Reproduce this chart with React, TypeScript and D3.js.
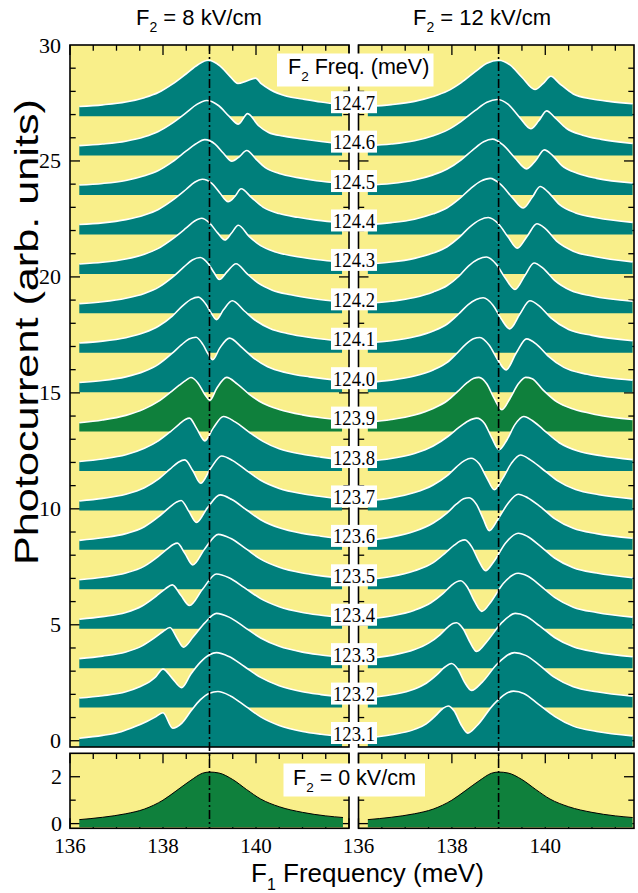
import React from "react";
import * as d3 from "d3";

// F2 laser frequencies (meV), listed bottom trace first
const F2_LABELS = ["123.1", "123.2", "123.3", "123.4", "123.5", "123.6", "123.7", "123.8", "123.9",
  "124.0", "124.1", "124.2", "124.3", "124.4", "124.5", "124.6", "124.7"];
// vertical offset (band bottom) of each trace, arb. units
const OFFSETS = [-0.27, 1.43, 3.13, 4.83, 6.53, 8.23, 9.93, 11.63, 13.33, 15.03, 16.73, 18.43,
  20.13, 21.83, 23.53, 25.23, 26.93];
const RESONANT_INDEX = 8; // 123.9 meV trace, drawn in green

// ---- F2 = 8 kV/cm : [F1 (meV), photocurrent above offset] ----
const L1231 = [[136.2,.38],[136.7,.5],[137.1,.66],[137.4,.88],[137.65,1.1],[137.85,1.31],[138.0,1.48],[138.21,.81],[138.4,1.02],[138.6,1.55],[138.8,2.03],[139.0,2.32],[139.18,2.39],[139.45,2.2],[139.78,1.75],[140.1,1.3],[140.5,.93],[141.0,.67],[141.4,.55],[141.85,.45]];
const L1232 = [[136.2,.41],[136.7,.51],[137.2,.68],[137.5,.9],[137.7,1.1],[137.83,1.3],[138.0,1.66],[138.2,1.26],[138.4,.86],[138.6,1.45],[138.8,1.95],[139.0,2.28],[139.15,2.37],[139.42,2.2],[139.75,1.77],[140.1,1.3],[140.5,.94],[141.0,.68],[141.4,.56],[141.85,.45]];
const L1233 = [[136.2,.41],[136.7,.52],[137.2,.7],[137.55,.96],[137.8,1.28],[138.0,1.58],[138.15,1.75],[138.3,1.3],[138.44,.9],[138.65,1.35],[138.9,1.95],[139.15,2.36],[139.42,2.2],[139.75,1.77],[140.1,1.3],[140.5,.94],[141.0,.69],[141.4,.57],[141.85,.46]];
const L1234 = [[136.2,.41],[136.7,.52],[137.2,.7],[137.55,.98],[137.85,1.4],[138.05,1.72],[138.2,1.89],[138.38,1.45],[138.57,1.0],[138.85,1.7],[139.15,2.36],[139.42,2.2],[139.75,1.77],[140.1,1.3],[140.5,.95],[141.0,.7],[141.4,.58],[141.85,.47]];
const L1235 = [[136.2,.41],[136.7,.52],[137.2,.7],[137.6,1.0],[137.9,1.42],[138.1,1.75],[138.22,1.93],[138.31,1.99],[138.47,1.55],[138.64,1.05],[138.9,1.75],[139.19,2.37],[139.45,2.2],[139.78,1.75],[140.1,1.3],[140.5,.95],[141.0,.7],[141.4,.58],[141.85,.47]];
const L1236 = [[136.2,.41],[136.7,.52],[137.2,.7],[137.6,1.0],[137.9,1.42],[138.12,1.8],[138.28,2.05],[138.39,2.13],[138.55,1.68],[138.72,1.18],[138.95,1.8],[139.23,2.37],[139.48,2.17],[139.8,1.72],[140.1,1.3],[140.5,.95],[141.0,.71],[141.4,.59],[141.85,.47]];
const L1237 = [[136.2,.41],[136.7,.52],[137.2,.7],[137.6,.98],[137.9,1.35],[138.15,1.78],[138.33,2.08],[138.47,2.18],[138.64,1.72],[138.81,1.17],[139.02,1.8],[139.26,2.35],[139.5,2.15],[139.8,1.72],[140.1,1.3],[140.5,.95],[141.0,.72],[141.4,.6],[141.85,.48]];
const L1238 = [[136.2,.41],[136.7,.52],[137.2,.7],[137.6,.98],[137.9,1.3],[138.15,1.68],[138.35,2.02],[138.48,2.22],[138.57,2.28],[138.72,1.85],[138.9,1.3],[139.08,1.85],[139.3,2.35],[139.55,2.12],[139.85,1.68],[140.15,1.28],[140.5,.96],[141.0,.72],[141.4,.6],[141.85,.48]];
const L1239 = [[136.2,.38],[136.7,.5],[137.2,.7],[137.6,.98],[137.9,1.3],[138.15,1.68],[138.35,2.0],[138.5,2.22],[138.6,2.33],[138.75,2.1],[138.9,1.6],[139.01,1.35],[139.15,1.85],[139.37,2.34],[139.6,2.05],[139.85,1.62],[140.15,1.22],[140.5,.95],[141.0,.72],[141.4,.6],[141.85,.51]];
const L1240 = [[136.2,.42],[136.7,.5],[137.2,.66],[137.6,.9],[137.9,1.2],[138.2,1.68],[138.4,2.05],[138.56,2.29],[138.71,2.37],[138.86,2.05],[138.97,1.65],[139.07,1.4],[139.22,1.9],[139.43,2.33],[139.7,1.92],[139.95,1.47],[140.25,1.1],[140.65,.84],[141.15,.66],[141.85,.5]];
const L1241 = [[136.2,.42],[136.7,.5],[137.2,.65],[137.6,.87],[137.9,1.14],[138.2,1.58],[138.42,2.02],[138.6,2.3],[138.76,2.4],[138.92,2.1],[139.04,1.7],[139.15,1.43],[139.3,1.85],[139.49,2.24],[139.75,1.8],[140.0,1.38],[140.3,1.05],[140.7,.82],[141.2,.65],[141.85,.5]];
const L1242 = [[136.2,.42],[136.7,.5],[137.2,.65],[137.6,.86],[137.9,1.12],[138.2,1.55],[138.45,2.0],[138.63,2.3],[138.8,2.41],[138.97,2.15],[139.1,1.75],[139.21,1.46],[139.38,1.8],[139.57,2.14],[139.8,1.72],[140.05,1.3],[140.35,1.0],[140.75,.8],[141.25,.63],[141.85,.5]];
const L1243 = [[136.2,.43],[136.7,.5],[137.2,.64],[137.6,.85],[137.9,1.1],[138.2,1.5],[138.5,1.98],[138.68,2.28],[138.83,2.4],[139.0,2.2],[139.17,1.78],[139.33,1.46],[139.47,1.75],[139.62,2.1],[139.85,1.62],[140.1,1.22],[140.4,.96],[140.8,.77],[141.3,.62],[141.85,.51]];
const L1244 = [[136.2,.43],[136.7,.5],[137.2,.64],[137.6,.84],[137.9,1.08],[138.2,1.47],[138.5,1.95],[138.68,2.25],[138.85,2.38],[139.05,2.2],[139.22,1.8],[139.4,1.41],[139.55,1.65],[139.68,1.97],[139.9,1.6],[140.15,1.18],[140.5,.9],[140.9,.74],[141.3,.62],[141.85,.51]];
const L1245 = [[136.2,.43],[136.7,.5],[137.2,.63],[137.6,.83],[137.9,1.06],[138.2,1.43],[138.5,1.9],[138.7,2.2],[138.9,2.39],[139.12,2.2],[139.3,1.8],[139.48,1.46],[139.64,1.65],[139.8,1.92],[140.0,1.55],[140.2,1.18],[140.5,.93],[140.9,.75],[141.3,.62],[141.85,.51]];
const L1246 = [[136.2,.43],[136.7,.5],[137.2,.62],[137.6,.81],[137.9,1.04],[138.2,1.4],[138.5,1.85],[138.72,2.2],[138.94,2.38],[139.2,2.15],[139.42,1.7],[139.62,1.36],[139.82,1.81],[140.05,1.3],[140.27,1.0],[140.6,.84],[141.0,.72],[141.4,.61],[141.85,.5]];
const L1247 = [[136.2,.42],[136.7,.49],[137.2,.61],[137.6,.8],[137.9,1.02],[138.2,1.38],[138.5,1.83],[138.75,2.22],[138.97,2.41],[139.23,2.16],[139.44,1.72],[139.61,1.41],[139.8,1.52],[139.99,1.64],[140.12,1.39],[140.3,1.15],[140.66,.86],[141.0,.74],[141.4,.61],[141.85,.5]];

// ---- F2 = 12 kV/cm ----
const R1231 = [[136.2,.4],[136.7,.53],[137.2,.76],[137.45,1.0],[137.65,1.35],[137.8,1.65],[137.92,1.77],[138.05,1.55],[138.2,.95],[138.34,.6],[138.55,.95],[138.9,1.85],[139.32,2.41],[139.55,2.3],[139.85,1.85],[140.2,1.32],[140.6,.9],[141.1,.67],[141.87,.48]];
const R1232 = [[136.2,.42],[136.7,.55],[137.2,.8],[137.45,1.05],[137.68,1.42],[137.85,1.75],[137.99,1.9],[138.13,1.65],[138.27,1.1],[138.42,.74],[138.65,1.1],[138.98,1.9],[139.34,2.37],[139.58,2.25],[139.88,1.82],[140.2,1.3],[140.6,.9],[141.1,.68],[141.87,.49]];
const R1233 = [[136.2,.42],[136.7,.55],[137.2,.8],[137.5,1.08],[137.75,1.45],[137.92,1.78],[138.02,1.93],[138.1,1.96],[138.24,1.7],[138.38,1.15],[138.53,.72],[138.75,1.15],[139.05,1.92],[139.36,2.36],[139.58,2.25],[139.88,1.82],[140.2,1.32],[140.6,.92],[141.1,.69],[141.87,.49]];
const R1234 = [[136.2,.42],[136.7,.55],[137.2,.8],[137.55,1.12],[137.8,1.5],[137.98,1.85],[138.1,2.02],[138.19,2.07],[138.33,1.8],[138.48,1.2],[138.64,.75],[138.85,1.2],[139.1,1.95],[139.42,2.39],[139.62,2.27],[139.9,1.85],[140.2,1.35],[140.6,.93],[141.1,.7],[141.87,.5]];
const R1235 = [[136.2,.42],[136.7,.55],[137.2,.8],[137.6,1.15],[137.85,1.55],[138.05,1.9],[138.18,2.08],[138.28,2.13],[138.42,1.85],[138.57,1.25],[138.72,.8],[138.9,1.2],[139.15,2.0],[139.42,2.42],[139.62,2.28],[139.9,1.85],[140.2,1.35],[140.6,.93],[141.1,.7],[141.87,.5]];
const R1236 = [[136.2,.42],[136.7,.55],[137.2,.8],[137.6,1.16],[137.9,1.6],[138.1,1.98],[138.25,2.2],[138.37,2.25],[138.53,1.95],[138.67,1.35],[138.8,.83],[138.98,1.3],[139.2,2.0],[139.42,2.4],[139.62,2.25],[139.9,1.85],[140.2,1.35],[140.6,.93],[141.1,.7],[141.87,.5]];
const R1237 = [[136.2,.42],[136.7,.54],[137.2,.77],[137.6,1.1],[137.9,1.5],[138.1,1.88],[138.27,2.15],[138.41,2.25],[138.58,2.02],[138.75,1.4],[138.91,.89],[139.08,1.35],[139.27,2.02],[139.47,2.39],[139.68,2.18],[139.92,1.82],[140.25,1.3],[140.65,.9],[141.15,.68],[141.87,.5]];
const R1238 = [[136.2,.42],[136.7,.54],[137.2,.76],[137.6,1.08],[137.92,1.5],[138.15,1.88],[138.35,2.16],[138.53,2.28],[138.7,2.05],[138.85,1.45],[139.01,.92],[139.18,1.35],[139.35,2.0],[139.54,2.35],[139.72,2.18],[139.95,1.8],[140.3,1.22],[140.7,.86],[141.2,.66],[141.87,.49]];
const R1239 = [[136.2,.4],[136.7,.52],[137.2,.72],[137.6,1.0],[137.9,1.33],[138.12,1.72],[138.32,2.1],[138.47,2.3],[138.58,2.34],[138.75,2.05],[138.9,1.45],[139.07,.94],[139.25,1.45],[139.42,2.05],[139.58,2.34],[139.72,2.28],[139.95,1.8],[140.25,1.28],[140.6,.97],[141.1,.73],[141.87,.52]];
const R1240 = [[136.2,.42],[136.7,.52],[137.2,.7],[137.6,.96],[137.9,1.28],[138.12,1.7],[138.3,2.07],[138.46,2.3],[138.6,2.36],[138.8,2.02],[138.98,1.4],[139.16,.96],[139.38,1.7],[139.6,2.3],[139.82,2.05],[140.05,1.58],[140.4,1.07],[140.9,.77],[141.87,.52]];
const R1241 = [[136.2,.43],[136.7,.52],[137.2,.69],[137.6,.94],[137.9,1.24],[138.15,1.68],[138.35,2.08],[138.52,2.3],[138.67,2.37],[138.88,2.05],[139.06,1.45],[139.24,1.03],[139.46,1.68],[139.67,2.24],[139.88,2.0],[140.12,1.5],[140.5,1.0],[141.0,.75],[141.87,.52]];
const R1242 = [[136.2,.43],[136.7,.52],[137.2,.68],[137.6,.92],[137.9,1.2],[138.15,1.6],[138.36,2.05],[138.56,2.33],[138.74,2.43],[138.95,2.12],[139.15,1.5],[139.35,1.03],[139.56,1.62],[139.76,2.17],[139.95,1.95],[140.2,1.42],[140.55,.98],[141.0,.75],[141.87,.52]];
const R1243 = [[136.2,.43],[136.7,.51],[137.2,.67],[137.6,.9],[137.9,1.17],[138.15,1.56],[138.38,2.02],[138.6,2.33],[138.78,2.43],[139.0,2.15],[139.2,1.6],[139.4,1.11],[139.62,1.65],[139.82,2.16],[140.0,1.95],[140.25,1.4],[140.6,.98],[141.05,.75],[141.87,.52]];
const R1244 = [[136.2,.43],[136.7,.51],[137.2,.66],[137.6,.89],[137.9,1.15],[138.15,1.52],[138.4,1.98],[138.62,2.3],[138.82,2.42],[139.05,2.15],[139.3,1.58],[139.53,1.14],[139.72,1.6],[139.89,2.07],[140.05,1.85],[140.3,1.3],[140.65,.93],[141.1,.72],[141.87,.52]];
const R1245 = [[136.2,.43],[136.7,.5],[137.2,.65],[137.6,.87],[137.9,1.12],[138.2,1.52],[138.45,1.95],[138.68,2.3],[138.87,2.41],[139.1,2.15],[139.35,1.6],[139.6,1.13],[139.8,1.5],[139.98,1.95],[140.15,1.72],[140.35,1.28],[140.7,.93],[141.1,.72],[141.87,.52]];
const R1246 = [[136.2,.43],[136.7,.5],[137.2,.64],[137.6,.86],[137.9,1.1],[138.2,1.48],[138.5,1.95],[138.75,2.3],[138.97,2.42],[139.2,2.22],[139.45,1.65],[139.69,1.16],[139.86,1.5],[140.03,1.93],[140.2,1.65],[140.45,1.18],[140.8,.88],[141.2,.7],[141.87,.52]];
const R1247 = [[136.2,.42],[136.7,.5],[137.2,.64],[137.6,.85],[137.9,1.08],[138.2,1.45],[138.5,1.92],[138.75,2.28],[139.0,2.41],[139.25,2.2],[139.5,1.68],[139.78,1.15],[139.95,1.4],[140.12,1.72],[140.3,1.42],[140.6,.96],[141.0,.74],[141.4,.63],[141.87,.54]];

// ---- F2 = 0 kV/cm reference spectrum ----
const ZERO_FIELD = [[136.2,.17],[136.7,.27],[137.2,.42],[137.6,.62],[138.0,1.0],[138.3,1.42],[138.6,1.85],[138.85,2.15],[139.0,2.2],[139.2,2.16],[139.5,1.88],[139.8,1.45],[140.1,1.05],[140.5,.72],[141.0,.48],[141.5,.33],[141.87,.26]];

const TRACES_8KV = [L1231, L1232, L1233, L1234, L1235, L1236, L1237, L1238, L1239, L1240, L1241, L1242, L1243, L1244, L1245, L1246, L1247];
const TRACES_12KV = [R1231, R1232, R1233, R1234, R1235, R1236, R1237, R1238, R1239, R1240, R1241, R1242, R1243, R1244, R1245, R1246, R1247];

const Y_TICK_LABELS = ["0", "5", "10", "15", "20", "25", "30"];
const X_TICK_LABELS = ["136", "138", "140"];
const BOTTOM_Y_LABELS = ["0", "2"];
const RESONANCE_F1 = 139.0;

const YELLOW = "#f9ef8a";
const TEAL = "#007f7b";
const GREEN = "#0f803c";
const SANS = "'Liberation Sans', Arial, Helvetica, sans-serif";
const SERIF = "'Liberation Serif', 'Times New Roman', serif";

const TOP = { y0: 45, y1: 747 };
const BOT = { y0: 753.3, y1: 828.3 };

const yTop = d3.scaleLinear().domain([-0.27, 30]).range([TOP.y1, TOP.y0]);
const yBot = d3.scaleLinear().domain([-0.2, 3]).range([BOT.y1, BOT.y0]);

const xLeft = d3.scaleLinear().domain([136, 142]).range([70, 349]);
const xRight = d3.scaleLinear().domain([136, 141.9]).range([358.5, 634]);

function Panel({ x, traces }: { x: d3.ScaleLinear<number, number>; traces: number[][][] }) {
  const [px0, px1] = x.range();
  const [d0, d1] = x.domain();
  const xTicks = d3.range(d0, d1 + 1e-6, 0.5);
  const isMajorX = (v: number) => Math.abs(v - Math.round(v / 2) * 2) < 1e-6;
  const yTicksTop = d3.range(0, 30, 1);
  const yTicksBot = [0, 1, 2];

  const curveFor = (offset: number) =>
    d3.area<number[]>()
      .x((d) => x(d[0]))
      .y0(yTop(offset))
      .y1((d) => yTop(offset + d[1]))
      .curve(d3.curveMonotoneX);
  const lineFor = (offset: number) =>
    d3.line<number[]>()
      .x((d) => x(d[0]))
      .y((d) => yTop(offset + d[1]))
      .curve(d3.curveMonotoneX);

  const zeroArea = d3.area<number[]>()
    .x((d) => x(d[0]))
    .y0(yBot(-0.15))
    .y1((d) => yBot(d[1]))
    .curve(d3.curveMonotoneX);
  const zeroLine = d3.line<number[]>()
    .x((d) => x(d[0]))
    .y((d) => yBot(d[1]))
    .curve(d3.curveMonotoneX);
  const zeroData = ZERO_FIELD.map((d) => [Math.min(d[0], d1 - 0.02), d[1]]);

  const order = d3.range(traces.length).reverse();

  return (
    <g>
      <rect x={px0} y={TOP.y0} width={px1 - px0} height={TOP.y1 - TOP.y0} fill={YELLOW} />
      <rect x={px0} y={BOT.y0} width={px1 - px0} height={BOT.y1 - BOT.y0} fill={YELLOW} />

      {/* ticks, inward */}
      <g stroke="#000" strokeWidth={1.3}>
        {yTicksTop.map((v) => {
          const len = v % 5 === 0 ? 10 : 5.7;
          const yy = yTop(v);
          return (
            <g key={"yt" + v}>
              <line x1={px0} x2={px0 + len} y1={yy} y2={yy} />
              <line x1={px1} x2={px1 - len} y1={yy} y2={yy} />
            </g>
          );
        })}
        {xTicks.map((v) => {
          const len = isMajorX(v) ? 10 : 5.7;
          const xx = x(v);
          return (
            <g key={"xt" + v}>
              <line x1={xx} x2={xx} y1={TOP.y0} y2={TOP.y0 + len} />
              <line x1={xx} x2={xx} y1={BOT.y0} y2={BOT.y0 + len} />
              <line x1={xx} x2={xx} y1={BOT.y1} y2={BOT.y1 - len} />
            </g>
          );
        })}
        {yTicksBot.map((v) => {
          const len = v % 2 === 0 ? 10 : 5.7;
          const yy = yBot(v);
          return (
            <g key={"yb" + v}>
              <line x1={px0} x2={px0 + len} y1={yy} y2={yy} />
              <line x1={px1} x2={px1 - len} y1={yy} y2={yy} />
            </g>
          );
        })}
      </g>

      {/* stacked spectra, upper ones first */}
      {order.map((k) => {
        const data = traces[k];
        const off = OFFSETS[k];
        return (
          <g key={"tr" + k}>
            <path d={curveFor(off)(data) || ""} fill={k === RESONANT_INDEX ? GREEN : TEAL} />
            <path d={lineFor(off)(data) || ""} fill="none" stroke="#fff" strokeWidth={1.6} />
          </g>
        );
      })}

      {/* zero-field spectrum */}
      <path d={zeroArea(zeroData) || ""} fill={GREEN} />
      <path d={zeroLine(zeroData) || ""} fill="none" stroke="#000" strokeWidth={1} />

      {/* frames */}
      <rect x={px0} y={TOP.y0} width={px1 - px0} height={TOP.y1 - TOP.y0} fill="none" stroke="#000" strokeWidth={1.6} />
      <rect x={px0} y={BOT.y0} width={px1 - px0} height={BOT.y1 - BOT.y0} fill="none" stroke="#000" strokeWidth={1.6} />

      {/* F1 = 139 meV marker */}
      <line x1={x(RESONANCE_F1)} x2={x(RESONANCE_F1)} y1={TOP.y0} y2={BOT.y1}
        stroke="#000" strokeWidth={1.6} strokeDasharray="9,3,2,3" />

      {/* x tick labels */}
      {X_TICK_LABELS.map((t) => (
        <text key={"xl" + t} x={x(+t)} y={853} textAnchor="middle" fontFamily={SERIF} fontSize={21}>{t}</text>
      ))}
    </g>
  );
}

export default function App() {
  const W = 638;
  const H = 893;
  return (
    <svg width={W} height={H} viewBox={`0 0 ${W} ${H}`}
      style={{ position: "absolute", left: 0, top: 0, background: "#fff" }}>
      <rect x={0} y={0} width={W} height={H} fill="#fff" />

      <Panel x={xLeft} traces={TRACES_8KV} />
      <Panel x={xRight} traces={TRACES_12KV} />

      {/* y tick labels */}
      {Y_TICK_LABELS.map((t) => (
        <text key={"yl" + t} x={61} y={yTop(+t) + 7.5} textAnchor="end" fontFamily={SERIF} fontSize={22}>{t}</text>
      ))}
      {BOTTOM_Y_LABELS.map((t) => (
        <text key={"byl" + t} x={62} y={yBot(+t) + 7.5} textAnchor="end" fontFamily={SERIF} fontSize={22}>{t}</text>
      ))}

      {/* trace labels */}
      {F2_LABELS.map((t, k) => {
        const cy = yTop(OFFSETS[k]) - 14;
        return (
          <g key={"lab" + t}>
            <rect x={331} y={cy - 11} width={46} height={22} fill="#fff" />
            <text x={354} y={cy + 7.5} textAnchor="middle" fontFamily={SERIF} fontSize={22}
              textLength={42} lengthAdjust="spacingAndGlyphs">{t}</text>
          </g>
        );
      })}

      {/* legend header */}
      <rect x={277} y={53.5} width={156.5} height={33} fill="#fff" />
      <text x={288} y={74} fontFamily={SANS} fontSize={21.5}>
        F<tspan fontSize={13.5} dy={7}>2</tspan><tspan dy={-7}> Freq. (meV)</tspan>
      </text>

      {/* field labels */}
      <text x={136} y={24.5} fontFamily={SANS} fontSize={22}>
        F<tspan fontSize={14} dy={7}>2</tspan><tspan dy={-7}> = 8 kV/cm</tspan>
      </text>
      <text x={413} y={24.5} fontFamily={SANS} fontSize={22}>
        F<tspan fontSize={14} dy={7}>2</tspan><tspan dy={-7}> = 12 kV/cm</tspan>
      </text>

      <rect x={283.5} y={763.5} width={141.5} height={33} fill="#fff" />
      <text x={293} y={785} fontFamily={SANS} fontSize={21.5}>
        F<tspan fontSize={13.5} dy={7}>2</tspan><tspan dy={-7}> = 0 kV/cm</tspan>
      </text>

      {/* axis titles */}
      <text x={251} y={882} fontFamily={SANS} fontSize={26}>
        F<tspan fontSize={16} dy={8}>1</tspan><tspan dy={-8}> Frequency (meV)</tspan>
      </text>
      <text transform="translate(38,332) rotate(-90)" textAnchor="middle" fontFamily={SANS} fontSize={33}
        textLength={466} lengthAdjust="spacingAndGlyphs">
        Photocurrent (arb. units)
      </text>
    </svg>
  );
}
